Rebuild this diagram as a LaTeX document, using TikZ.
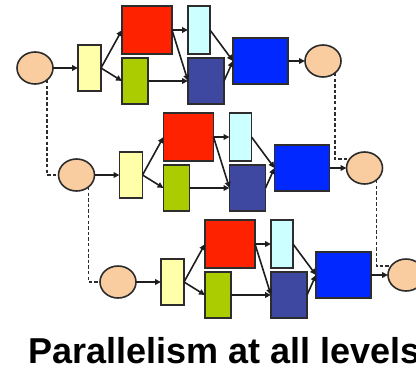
\documentclass[tikz,border=0pt]{standalone}
\usepackage{fontspec}
\setmainfont{Liberation Sans}
\usetikzlibrary{arrows.meta,shapes.geometric}

\tikzset{every picture/.style={line width=0.75pt}}
\tikzset{
	blk/.style={draw={rgb, 255:red, 45; green, 45; blue, 45 }, line width=1.2pt, inner sep=0pt, outer sep=0pt},
	ends/.style={blk, ellipse, minimum width=27pt, minimum height=24pt, fill={rgb, 255:red, 250; green, 205; blue, 160 }},
	fork/.style={blk, minimum width=17.25pt, minimum height=34.5pt, fill={rgb, 255:red, 255; green, 255; blue, 170 }},
	redbox/.style={blk, minimum width=37.5pt, minimum height=36pt, fill={rgb, 255:red, 255; green, 34; blue, 0 }},
	greenbox/.style={blk, minimum width=19.5pt, minimum height=34.5pt, fill={rgb, 255:red, 170; green, 204; blue, 0 }},
	cyanbox/.style={blk, minimum width=16.5pt, minimum height=36pt, fill={rgb, 255:red, 204; green, 255; blue, 255 }},
	slatebox/.style={blk, minimum width=27pt, minimum height=34.5pt, fill={rgb, 255:red, 63; green, 72; blue, 160 }},
	bluebox/.style={blk, minimum width=41.25pt, minimum height=34.5pt, fill={rgb, 255:red, 0; green, 40; blue, 255 }},
	flow/.style={draw={rgb, 255:red, 30; green, 30; blue, 30 }, line width=1.2pt, -{Triangle[length=4.5pt,width=4.2pt]}},
	link/.style={draw={rgb, 255:red, 45; green, 45; blue, 45 }, line width=1.3pt, dash pattern=on 2.6pt off 1.6pt}
}

\begin{document}
\begin{tikzpicture}[x=0.75pt,y=0.75pt,yscale=-1,xscale=1]
	\clip (0,0) rectangle (416,372);

	% three pipelines, each one shifted down and to the right
	\foreach \i/\dx/\dy in {1/0/0, 2/41.5/107, 3/83/214}{
		\begin{scope}[shift={(\dx,\dy)}]
			% Ellipses
			\node [ends] (in\i) at (35,68) {};
			\node [ends] (out\i) at (323,61) {};
			% Rectangles
			\node [fork] (fork\i) at (89.5,68) {};
			\node [redbox] (red\i) at (147,30) {};
			\node [greenbox] (green\i) at (135,81) {};
			\node [cyanbox] (cyan\i) at (199,30) {};
			\node [slatebox] (slate\i) at (206,81) {};
			\node [bluebox] (blue\i) at (260.5,61) {};
			% Connections
			\draw [flow] (in\i) -- (fork\i);
			\draw [flow] (fork\i.east) -- (red\i.west);
			\draw [flow] (fork\i.east) -- (green\i.west);
			\draw [flow] (red\i.east) -- (cyan\i.west);
			\draw [flow] (red\i.east) -- (slate\i.west);
			\draw [flow] (green\i.east) -- (slate\i.west);
			\draw [flow] (cyan\i.east) -- (blue\i.west);
			\draw [flow] (slate\i.east) -- (blue\i.west);
			\draw [flow] (blue\i) -- (out\i);
		\end{scope}
	}

	% Dashed links between the levels
	\draw [link] (in1.-45) |- (in2.west);
	\draw [link] (in2.-45) |- (in3.west);
	\draw [link] (out1.-45) |- (out2.150);
	\draw [link] (out2.-45) |- (out3.150);

	% Text Node
	\node [anchor=base west, inner sep=0pt, font=\bfseries\fontsize{27}{30}\selectfont] (title) at (28,363) {Parallelism at all levels};

\end{tikzpicture}
\end{document}
